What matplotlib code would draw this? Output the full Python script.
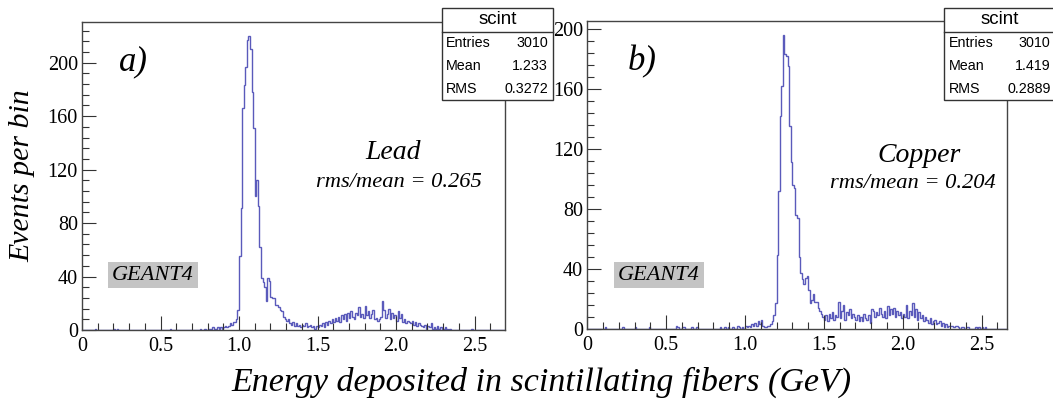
import numpy as np
import matplotlib
matplotlib.use("Agg")
import matplotlib.pyplot as plt
from matplotlib.ticker import MultipleLocator
from matplotlib.patches import Rectangle
from matplotlib.lines import Line2D

# ---------------- data ----------------
BIN_WIDTH = 0.01

lead_nbins = 270
lead_main_start = 91
lead_main_counts = [
    3, 2, 3, 5, 4, 6, 6, 8, 15, 55,            # 91-100
    91, 166, 183, 197, 217, 220, 210, 178, 151, 100,   # 101-110
    112, 93, 62, 39, 36, 32, 22, 39, 37, 25,   # 111-120
    24, 24, 19, 19, 17, 15, 14, 10, 8, 7,      # 121-130
    8, 5, 4, 6, 3, 5, 3, 4, 2, 4,              # 131-140
    3, 5, 2, 3, 4, 2, 3, 1, 3, 2,              # 141-150
    4, 3, 5, 2, 6, 4, 7, 5, 8, 6,              # 151-160
    9, 7, 10, 6, 11, 8, 12, 7, 13, 9,          # 161-170
    14, 10, 8, 13, 11, 17, 10, 12, 9, 18,      # 171-180
    11, 14, 9, 12, 15, 8, 9, 7, 8, 10,         # 181-190
    22, 15, 9, 12, 16, 8, 13, 9, 11, 7,        # 191-200
    14, 9, 12, 6, 8, 5, 7, 6, 5, 7,            # 201-210
    4, 6, 3, 5, 4, 3, 2, 4, 1, 3,              # 211-220
    2, 5, 1, 2, 1, 3, 1, 2, 0, 1,              # 221-230
    2, 1, 0, 1,                                # 231-234
]
lead_sparse_bins = [8, 20, 22, 56, 75, 78, 80, 81, 83, 84, 85, 86, 87, 88, 89, 90, 248]
lead_sparse_counts = [1, 1, 1, 1, 1, 1, 1, 1, 2, 1, 1, 2, 1, 2, 1, 2, 1]

copper_nbins = 266
copper_main_start = 95
copper_main_counts = [
    2, 1, 0, 1, 0, 2,                          # 95-100
    1, 2, 1, 3, 2, 4, 2, 5, 3, 6,              # 101-110
    2, 1, 1, 2, 2, 3, 5, 9, 17, 49,            # 111-120
    92, 142, 162, 196, 183, 182, 175, 135, 111, 96,   # 121-130
    94, 76, 74, 48, 37, 33, 30, 34, 35, 26,    # 131-140
    17, 19, 23, 18, 18, 14, 12, 10, 8, 6,      # 141-150
    9, 5, 10, 7, 11, 6, 9, 8, 18, 7,           # 151-160
    12, 16, 6, 11, 9, 13, 7, 10, 8, 6,         # 161-170
    9, 5, 8, 5, 10, 7, 6, 9, 4, 13,            # 171-180
    12, 8, 11, 9, 14, 10, 8, 12, 7, 15,        # 181-190
    9, 13, 10, 14, 8, 12, 9, 11, 7, 10,        # 191-200
    8, 16, 7, 12, 9, 17, 8, 13, 6, 11,         # 201-210
    7, 9, 5, 8, 6, 4, 7, 3, 5, 6,              # 211-220
    3, 4, 5, 2, 4, 1, 3, 1, 2, 2,              # 221-230
    2, 1, 2, 2, 1, 0, 1, 1, 0, 1,              # 231-240
    1,                                         # 241
]
copper_sparse_bins = [11, 22, 30, 39, 56, 57, 60, 61, 66, 69, 84, 87, 89, 92, 246, 248, 250, 252]
copper_sparse_counts = [1, 1, 1, 1, 2, 1, 1, 1, 1, 1, 1, 1, 1, 1, 1, 1, 1, 1]

panel_tags = ["a)", "b)"]
materials = ["Lead", "Copper"]
ratios = ["rms/mean = 0.265", "rms/mean = 0.204"]
stat_entries = ["3010", "3010"]
stat_means = ["1.233", "1.419"]
stat_rms = ["0.3272", "0.2889"]
x_ticks = [0, 0.5, 1.0, 1.5, 2.0, 2.5]
x_ticklabels = ["0", "0.5", "1.0", "1.5", "2.0", "2.5"]
y_ticks = [0, 40, 80, 120, 160, 200]

# ---------------- style ----------------
W, H = 1053, 403
HIST_COLOR = "#5a5abb"
SERIF = ["Liberation Serif", "DejaVu Serif"]
SANS = ["Liberation Sans", "DejaVu Sans"]

fig = plt.figure(figsize=(W / 100, H / 100), dpi=100)
fig.patch.set_facecolor("white")


def fx(x):
    return x / W


def fy(y):
    return 1 - y / H


def px_axes(l, t, r, b):
    return fig.add_axes([fx(l), fy(b), (r - l) / W, (b - t) / H])


def build_counts(nbins, start, main, sbins, scounts):
    c = np.zeros(nbins)
    c[start:start + len(main)] = main
    c[sbins] = scounts
    return c


datasets = [
    build_counts(lead_nbins, lead_main_start, lead_main_counts, lead_sparse_bins, lead_sparse_counts),
    build_counts(copper_nbins, copper_main_start, copper_main_counts, copper_sparse_bins, copper_sparse_counts),
]
nbins_list = [lead_nbins, copper_nbins]

axes_px = [(82, 21.7, 505, 330), (587.3, 20.7, 1007, 329)]
px_per_unit = [157.0, 157.7]
ymax_list = [230.7, 205.5]
stat_box_px = [(441.7, 8, 553, 100), (944, 8, 1055.3, 100)]
tag_pos = [(133, 62), (642, 62)]
mat_pos = [(393.5, 153), (919, 155)]
ratio_pos = [(399, 183), (912.5, 184)]
geant_box = [(108, 262, 198, 288), (614, 262, 704, 288)]

for k in range(2):
    l, t, r, b = axes_px[k]
    ax = px_axes(l, t, r, b)
    counts = datasets[k]
    edges = np.arange(nbins_list[k] + 1) * BIN_WIDTH
    ax.stairs(counts, edges, color=HIST_COLOR, lw=1.0, baseline=0)
    ax.set_xlim(0, (r - l) / px_per_unit[k])
    ax.set_ylim(0, ymax_list[k])
    ax.set_xticks(x_ticks)
    ax.set_xticklabels(x_ticklabels)
    ax.set_yticks(y_ticks)
    ax.xaxis.set_minor_locator(MultipleLocator(0.1))
    ax.yaxis.set_minor_locator(MultipleLocator(8))
    ax.tick_params(which="both", direction="in", top=False, right=False,
                   color="#333333", width=0.8)
    ax.tick_params(which="major", length=10)
    ax.tick_params(which="minor", length=5)
    ax.tick_params(axis="x", which="major", pad=5)
    ax.tick_params(axis="y", which="major", pad=3)
    for lab in ax.get_xticklabels() + ax.get_yticklabels():
        lab.set_fontfamily(SERIF)
        lab.set_fontsize(14.5)
    for sp in ax.spines.values():
        sp.set_color("#444444")
        sp.set_linewidth(1.0)

    # panel tag, material, ratio
    fig.text(fx(tag_pos[k][0]), fy(tag_pos[k][1]), panel_tags[k], family=SERIF,
             style="italic", fontsize=25, ha="center", va="center")
    fig.text(fx(mat_pos[k][0]), fy(mat_pos[k][1]), materials[k], family=SERIF,
             style="italic", fontsize=20, ha="center", va="center")
    fig.text(fx(ratio_pos[k][0]), fy(ratio_pos[k][1]), ratios[k], family=SERIF,
             style="italic", fontsize=16.2, ha="center", va="center")

    # GEANT4 label
    gx0, gy0, gx1, gy1 = geant_box[k]
    fig.add_artist(Rectangle((fx(gx0), fy(gy1)), (gx1 - gx0) / W, (gy1 - gy0) / H,
                             transform=fig.transFigure, facecolor="#c4c4c4",
                             edgecolor="none"))
    fig.text(fx((gx0 + gx1) / 2), fy((gy0 + gy1) / 2), "GEANT4", family=SERIF,
             style="italic", fontsize=16, ha="center", va="center")

    # stat box
    sx0, sy0, sx1, sy1 = stat_box_px[k]
    fig.add_artist(Rectangle((fx(sx0), fy(sy1)), (sx1 - sx0) / W, (sy1 - sy0) / H,
                             transform=fig.transFigure, facecolor="white",
                             edgecolor="#333333", lw=1.0, zorder=5))
    fig.add_artist(Line2D([fx(sx0), fx(sx1)], [fy(31.7), fy(31.7)],
                          transform=fig.transFigure, color="#333333", lw=1.0, zorder=6))
    fig.text(fx((sx0 + sx1) / 2), fy(20), "scint", family=SANS, fontsize=13.5,
             ha="center", va="center", zorder=7)
    rows = [("Entries", stat_entries[k], 43), ("Mean", stat_means[k], 66),
            ("RMS", stat_rms[k], 89)]
    for name, val, yy in rows:
        fig.text(fx(sx0 + 4.5), fy(yy), name, family=SANS, fontsize=10.3,
                 ha="left", va="center", zorder=7)
        fig.text(fx(sx0 + 106.5), fy(yy), val, family=SANS, fontsize=10.3,
                 ha="right", va="center", zorder=7)

fig.text(fx(22), fy(176), "Events per bin", family=SERIF, style="italic",
         fontsize=21.5, rotation=90, ha="center", va="center")
fig.text(fx(541), fy(382), "Energy deposited in scintillating fibers (GeV)",
         family=SERIF, style="italic", fontsize=24.5, ha="center", va="center")

fig.savefig("out.png", dpi=100)
